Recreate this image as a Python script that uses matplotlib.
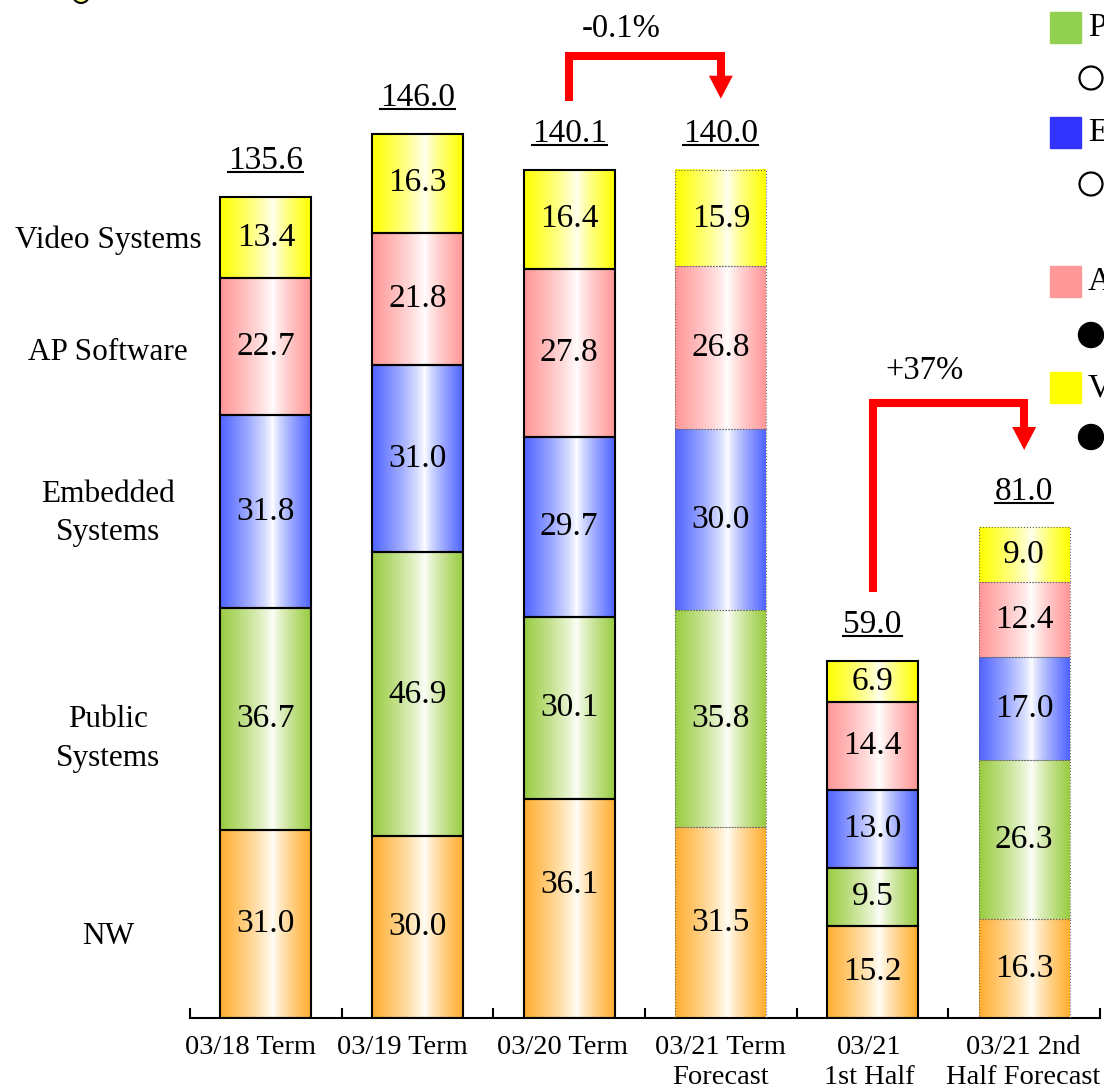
import numpy as np
import matplotlib.pyplot as plt
from matplotlib.colors import to_rgb
from matplotlib.patches import Rectangle, Circle
from matplotlib.lines import Line2D
from matplotlib.transforms import ScaledTranslation

plt.rcParams['font.family'] = ['Liberation Serif', 'DejaVu Serif']

# data
periods = ['03/18 Term', '03/19 Term', '03/20 Term', '03/21 Term\nForecast',
           '03/21\n1st Half', '03/21 2nd\nHalf Forecast']
segments = ['NW', 'Public\nSystems', 'Embedded\nSystems', 'AP Software', 'Video Systems']
nw = [31.0, 30.0, 36.1, 31.5, 15.2, 16.3]
public = [36.7, 46.9, 30.1, 35.8, 9.5, 26.3]
embedded = [31.8, 31.0, 29.7, 30.0, 13.0, 17.0]
ap_soft = [22.7, 21.8, 27.8, 26.8, 14.4, 12.4]
video = [13.4, 16.3, 16.4, 15.9, 6.9, 9.0]
totals = [135.6, 146.0, 140.1, 140.0, 59.0, 81.0]
forecast = [False, False, False, True, False, True]
changes = [('-0.1%', 2, 3), ('+37%', 4, 5)]

edge_cols = ['#FFAE30', '#99CC40', '#5064FF', '#FF9696', '#FFFF00']
legend_cols = ['#92D050', '#3333FF', '#FF9999', '#FFFF00']
legend_letters = ['P', 'E', 'A', 'V']
legend_marks = ['open', 'open', 'filled', 'filled']

series = [nw, public, embedded, ap_soft, video]

fig = plt.figure(figsize=(11.04, 10.91), dpi=100)
ax = fig.add_axes([190/1104, 73/1091, 910/1104, 1018/1091])
ax.set_xlim(-0.5, 5.5)
ax.set_ylim(0, 168.1)

def grad_cmap(c):
    c = np.array(to_rgb(c))
    t = np.linspace(0, 1, 200)
    peak = 0.58
    d = np.where(t < peak, (peak - t) / peak, (t - peak) / (1 - peak))
    d = d ** 0.8
    light = np.clip(0.9 * np.ones(3) + 0.1 * c + 0.06, 0, 1)
    rgb = light[None, :] * (1 - d[:, None]) + c[None, :] * d[:, None]
    return rgb[None, :, :]

w = 0.6
for i in range(len(periods)):
    bottom = 0
    for k, s in enumerate(series):
        v = s[i]
        x0 = i - w / 2
        ax.imshow(grad_cmap(edge_cols[k]), extent=(x0, x0 + w, bottom, bottom + v),
                  aspect='auto', interpolation='bilinear', zorder=2)
        if forecast[i]:
            ax.add_patch(Rectangle((x0, bottom), w, v, fill=False, ec='#666666',
                                   lw=0.8, ls=':', zorder=3))
        else:
            ax.add_patch(Rectangle((x0, bottom), w, v, fill=False, ec='black',
                                   lw=1.5, zorder=3))
        # the 03/20 NW label sits higher in the original
        ylab = bottom + v / 2 + (4.0 if (i == 2 and k == 0) else 0)
        ax.text(i, ylab, f'{v:.1f}', ha='center', va='center',
                fontsize=24, zorder=4)
        bottom += v

# total labels
tot_txt = []
for i, t in enumerate(totals):
    tot_txt.append(ax.text(i, t + 4.6, f'{t:.1f}', ha='center', va='baseline',
                           fontsize=24, zorder=4))

# segment names on the left, aligned with first bar
nudge = [-2.1, -3.3, -0.3, -0.9, -0.5]
cum = 0
for k, s in enumerate(series):
    ax.text(-1.04, cum + s[0] / 2 + nudge[k], segments[k], ha='center', va='center',
            fontsize=22.5, linespacing=1.45, clip_on=False)
    cum += s[0]

# change arrows
for label, a, b in changes:
    ys = totals[a] + 11.4
    ytop = max(totals[a], totals[b]) + (18.8 if a == 2 else 20.6)
    ytip = totals[b] + (11.8 if a == 2 else 12.8)
    hh = 3.8
    ax.plot([a, a, b, b], [ys, ytop, ytop, ytip + hh], color='red', lw=5.8,
            solid_joinstyle='miter', solid_capstyle='butt', clip_on=False, zorder=5)
    ax.fill([b - 0.079, b + 0.079, b], [ytip + hh, ytip + hh, ytip], color='red',
            lw=0, clip_on=False, zorder=5)
    ax.text((a + b) / 2 - 0.16, ytop + (4.4 if a == 2 else 5.2), label,
            ha='center', va='center', fontsize=23.5, clip_on=False)

# axis styling
for sp in ['left', 'right', 'top']:
    ax.spines[sp].set_visible(False)
ax.spines['bottom'].set_linewidth(1.5)
ax.set_yticks([])
ax.set_xticks(range(len(periods)))
ax.set_xticklabels(periods, fontsize=20.5, linespacing=1.3)
ax.set_xticks(np.arange(-0.5, 6, 1), minor=True)
ax.tick_params(axis='x', which='major', length=0, pad=12)
ax.tick_params(axis='x', which='minor', length=7, width=1.5, direction='in')
# first labels sit a little left of their bars in the original
shift_px = [-15, -15, -7, 0, -3, -1]
for lab, dx in zip(ax.get_xticklabels(), shift_px):
    lab.set_transform(lab.get_transform() + ScaledTranslation(dx / 100, 0, fig.dpi_scale_trans))

# underline totals
fig.canvas.draw()
r = fig.canvas.get_renderer()
inv = fig.transFigure.inverted()
for t in tot_txt:
    bb = t.get_window_extent(r)
    yb = ax.transData.transform((0, t.get_position()[1]))[1] - 3
    p0 = inv.transform((bb.x0, yb))
    p1 = inv.transform((bb.x1, yb))
    fig.add_artist(Line2D([p0[0], p1[0]], [p0[1], p1[1]], color='black', lw=1.5))

# clipped legend on the right edge and the stray marker at the top
lg = fig.add_axes([0, 0, 1, 1], zorder=10)
lg.set_xlim(0, 1104)
lg.set_ylim(1091, 0)
lg.axis('off')
lg.add_patch(Circle((81, -5), 8, fc='#FFFF80', ec='black', lw=1.5))
sq_y = [12, 117, 266, 372]
mk_y = [78, 184, 335, 437]
for k in range(4):
    lg.add_patch(Rectangle((1050, sq_y[k]), 31, 31, color=legend_cols[k]))
    lg.text(1088, sq_y[k] + 16, legend_letters[k], fontsize=24, va='center', ha='left')
    if legend_marks[k] == 'open':
        lg.add_patch(Circle((1091, mk_y[k]), 11.5, fill=False, ec='black', lw=1.6))
    else:
        lg.add_patch(Circle((1091, mk_y[k]), 12.5, fc='black', ec='black'))

fig.savefig('out.png', dpi=100)
